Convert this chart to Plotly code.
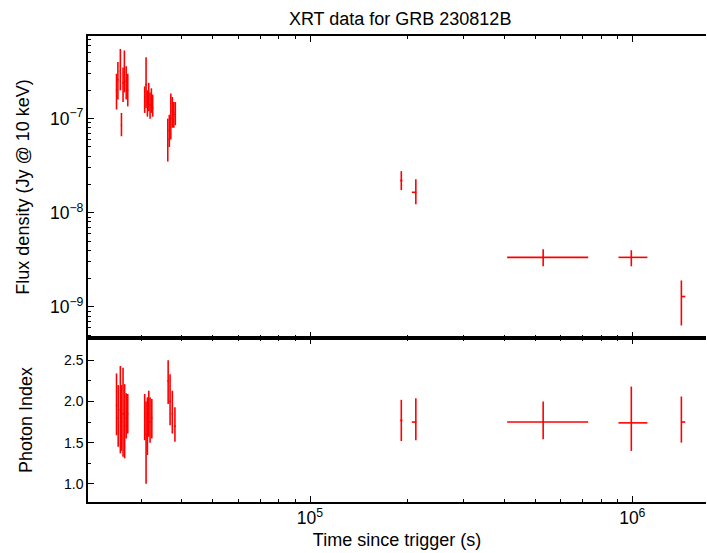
import plotly.graph_objects as go

# ---------------- data ----------------
# Flux density (top panel)
flux_t = [25100, 25350, 25800, 26000, 26300, 26550, 26900, 27200,
          30700, 31000, 31300, 31600, 31900, 32200, 32500,
          36200, 36600, 37000, 37400, 37800, 38200,
          1.92e5, 2.13e5, 5.29e5, 9.93e5, 1.42e6]
flux_t_plus = [120, 120, 120, 120, 120, 120, 120, 120,
               150, 150, 150, 150, 150, 150, 150,
               180, 180, 180, 180, 180, 180,
               1500, 800, 2.01e5, 1.21e5, 4.0e4]
flux_t_minus = [120, 120, 120, 120, 120, 120, 120, 120,
                150, 150, 150, 150, 150, 150, 150,
                180, 180, 180, 180, 180, 180,
                1500, 6000, 1.20e5, 0.87e5, 1000]
flux = [2.0e-7, 2.6e-7, 3.2e-7, 8.5e-8, 2.4e-7, 3.0e-7, 2.5e-7, 2.0e-7,
        1.7e-7, 2.3e-7, 1.5e-7, 1.8e-7, 1.4e-7, 1.6e-7, 1.3e-7,
        6.0e-8, 7.5e-8, 1.0e-7, 1.2e-7, 1.1e-7, 1.15e-7,
        2.2e-8, 1.65e-8, 3.36e-9, 3.36e-9, 1.29e-9]
flux_hi = [3.0e-7, 4.0e-7, 5.5e-7, 1.15e-7, 3.5e-7, 5.3e-7, 3.6e-7, 3.0e-7,
           2.2e-7, 4.5e-7, 2.0e-7, 2.4e-7, 1.9e-7, 2.1e-7, 1.8e-7,
           1.0e-7, 1.1e-7, 1.85e-7, 1.7e-7, 1.5e-7, 1.5e-7,
           2.77e-8, 2.27e-8, 4.09e-9, 4.0e-9, 1.91e-9]
flux_lo = [1.25e-7, 1.6e-7, 2.0e-7, 6.5e-8, 1.5e-7, 1.9e-7, 1.6e-7, 1.35e-7,
           1.15e-7, 1.3e-7, 1.05e-7, 1.2e-7, 1.0e-7, 1.15e-7, 1.05e-7,
           3.5e-8, 5.0e-8, 6.0e-8, 8.0e-8, 8.0e-8, 8.5e-8,
           1.74e-8, 1.23e-8, 2.70e-9, 2.7e-9, 6.35e-10]

# Photon index (bottom panel)
gam_t = [25100, 25400, 25800, 26000, 26300, 26600, 26900, 27200,
         30700, 31000, 31300, 31600, 31900, 32300,
         36300, 36800, 37400, 38100,
         1.92e5, 2.13e5, 5.29e5, 9.93e5, 1.42e6]
gam_t_plus = [120, 120, 120, 120, 120, 120, 120, 120,
              150, 150, 150, 150, 150, 150,
              200, 200, 200, 200,
              1500, 800, 2.01e5, 1.21e5, 4.0e4]
gam_t_minus = [120, 120, 120, 120, 120, 120, 120, 120,
               150, 150, 150, 150, 150, 150,
               200, 200, 200, 200,
               1500, 6000, 1.20e5, 0.87e5, 1000]
gam = [1.95, 1.80, 1.90, 1.75, 1.85, 1.70, 1.80, 1.85,
       1.80, 1.60, 1.70, 1.85, 1.75, 1.80,
       2.25, 2.00, 1.85, 1.70,
       1.77, 1.75, 1.75, 1.74, 1.75]
gam_hi = [2.34, 2.20, 2.43, 2.20, 2.41, 2.21, 2.10, 2.09,
          2.09, 2.00, 2.05, 2.13, 2.05, 2.03,
          2.50, 2.33, 2.13, 1.93,
          2.02, 2.04, 2.00, 2.18, 2.06]
gam_lo = [1.59, 1.45, 1.37, 1.40, 1.33, 1.31, 1.55, 1.61,
          1.53, 1.00, 1.35, 1.57, 1.50, 1.55,
          1.97, 1.71, 1.61, 1.51,
          1.52, 1.53, 1.54, 1.40, 1.50]

title_text = "XRT data for GRB 230812B"
xlabel = "Time since trigger (s)"
ylabel_top = "Flux density (Jy @ 10 keV)"
ylabel_bot = "Photon Index"

RED = "#ff0000"
FONT = "Liberation Sans, Arial, sans-serif"

fig = go.Figure()

fig.add_trace(go.Scatter(
    x=flux_t, y=flux, mode="markers", xaxis="x", yaxis="y",
    marker=dict(size=1, color=RED),
    error_x=dict(type="data", symmetric=False, array=flux_t_plus, arrayminus=flux_t_minus,
                 color=RED, thickness=1.6, width=0),
    error_y=dict(type="data", symmetric=False,
                 array=[h - v for h, v in zip(flux_hi, flux)],
                 arrayminus=[v - l for v, l in zip(flux, flux_lo)],
                 color=RED, thickness=1.6, width=0),
    showlegend=False, hoverinfo="skip"))

fig.add_trace(go.Scatter(
    x=gam_t, y=gam, mode="markers", xaxis="x2", yaxis="y2",
    marker=dict(size=1, color=RED),
    error_x=dict(type="data", symmetric=False, array=gam_t_plus, arrayminus=gam_t_minus,
                 color=RED, thickness=1.6, width=0),
    error_y=dict(type="data", symmetric=False,
                 array=[h - v for h, v in zip(gam_hi, gam)],
                 arrayminus=[v - l for v, l in zip(gam, gam_lo)],
                 color=RED, thickness=1.6, width=0),
    showlegend=False, hoverinfo="skip"))

xr = [4.3112, 6.2287]
common_x = dict(type="log", range=xr, showline=True, linecolor="black", linewidth=1.5,
                mirror="ticks", ticks="inside", ticklen=6, tickwidth=1.2, tickcolor="black",
                dtick=1, exponentformat="power", showgrid=False, zeroline=False,
                automargin=False,
                minor=dict(ticks="inside", ticklen=3, tickwidth=1, tickcolor="black", showgrid=False),
                tickfont=dict(family=FONT, size=14, color="black"))

fig.update_layout(
    width=707, height=553,
    margin=dict(l=88, r=1, t=36, b=51, autoexpand=False),
    paper_bgcolor="white", plot_bgcolor="white",
    font=dict(family=FONT, color="black"),
    title=dict(text=title_text, x=0.566, xanchor="center", y=0.967, yanchor="middle",
               font=dict(family=FONT, size=18, color="black")),
    xaxis=dict(common_x, anchor="y", showticklabels=False, matches="x2"),
    xaxis2=dict(common_x, anchor="y2",
                title=dict(text=xlabel, font=dict(family=FONT, size=18, color="black"), standoff=6)),
    yaxis=dict(type="log", domain=[0.352, 1], range=[-9.33, -6.122], anchor="x",
               showline=True, linecolor="black", linewidth=1.5, mirror=False, automargin=False,
               ticks="inside", ticklen=6, tickwidth=1.2, tickcolor="black",
               dtick=1, exponentformat="power", showgrid=False, zeroline=False,
               minor=dict(ticks="inside", ticklen=3, tickwidth=1, tickcolor="black", showgrid=False),
               tickfont=dict(family=FONT, size=14, color="black"),
               title=dict(text=ylabel_top, font=dict(family=FONT, size=18, color="black"), standoff=16)),
    yaxis2=dict(type="linear", domain=[0, 0.352], range=[0.78, 2.77], anchor="x2",
                showline=True, linecolor="black", linewidth=1.5, mirror=False, automargin=False,
                ticks="inside", ticklen=6, tickwidth=1.2, tickcolor="black",
                dtick=0.5, tickformat=".1f", showgrid=False, zeroline=False,
                minor=dict(ticks="inside", ticklen=3, tickwidth=1, tickcolor="black",
                           dtick=0.25, showgrid=False),
                tickfont=dict(family=FONT, size=14, color="black"),
                title=dict(text=ylabel_bot, font=dict(family=FONT, size=18, color="black"), standoff=27)),
)

fig.write_html("out.html", config={"displayModeBar": False})
